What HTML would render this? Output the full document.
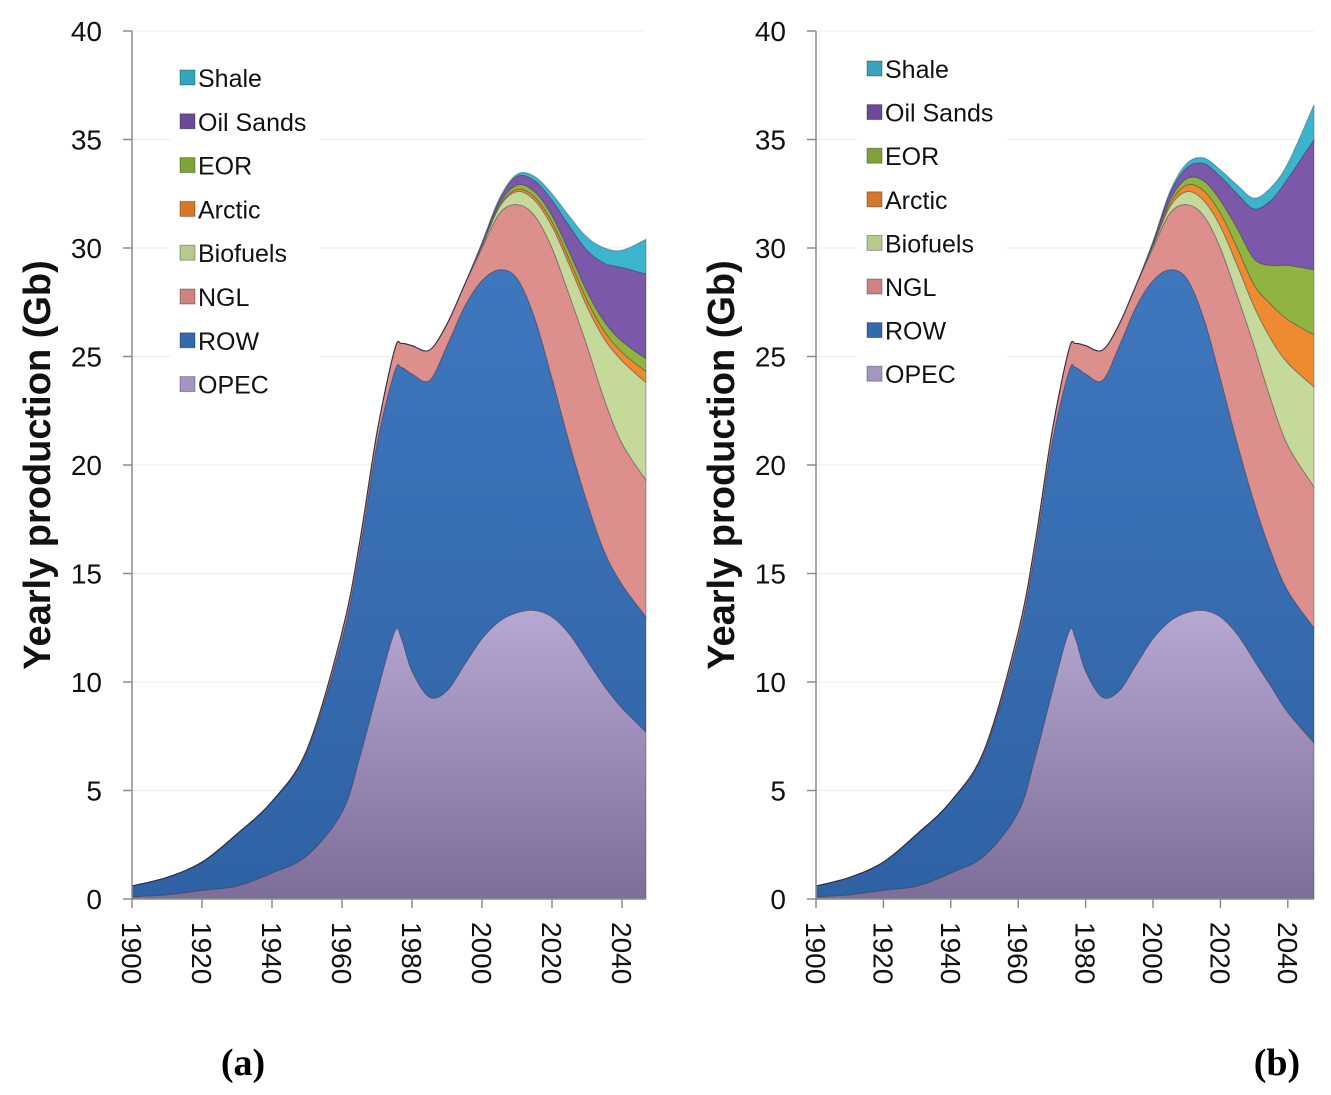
<!DOCTYPE html>
<html><head><meta charset="utf-8">
<style>
html,body{margin:0;padding:0;background:#fff;}
svg{display:block;font-family:"Liberation Sans",sans-serif;}
</style></head>
<body>
<svg id="chart" width="1331" height="1095" viewBox="0 0 1331 1095" xmlns="http://www.w3.org/2000/svg">
<defs>
<linearGradient id="gOPEC" x1="0" y1="0" x2="0" y2="1"><stop offset="0" stop-color="#b7a7d3"/><stop offset="1" stop-color="#7d6d98"/></linearGradient>
<linearGradient id="gROW" x1="0" y1="0" x2="0" y2="1"><stop offset="0" stop-color="#3f77bd"/><stop offset="1" stop-color="#2f62a4"/></linearGradient>
</defs>
<text x="243" y="1075" text-anchor="middle" font-family="Liberation Serif,serif" font-weight="bold" font-size="38">(a)</text>
<text x="1277" y="1075" text-anchor="middle" font-family="Liberation Serif,serif" font-weight="bold" font-size="38">(b)</text>
</svg>
<script>
const years = [1900,1910,1920,1930,1940,1950,1960,1965,1970,1975,1977,1980,1985,1990,1995,2000,2005,2010,2015,2020,2025,2030,2035,2040,2048];
const layerNames = ["OPEC","ROW","NGL","Biofuels","Arctic","EOR","Oil Sands","Shale"];
const opecA = [0.1,0.2,0.4,0.6,1.2,2.0,4.0,6.5,9.5,12.3,12.0,10.5,9.3,9.6,10.8,12.0,12.8,13.2,13.3,13.0,12.2,11.0,9.8,8.8,7.7];
const rowA  = [0.5,0.8,1.3,2.4,3.3,4.8,8.0,9.5,11.5,12.0,12.5,13.7,14.6,15.9,16.5,16.5,16.2,15.4,13.5,11.0,8.8,7.3,6.2,5.7,5.3];
const nglA  = [0,0,0,0,0,0.1,0.3,0.4,0.5,1.0,1.1,1.3,1.4,1.0,1.0,1.5,2.6,3.4,4.7,6.0,6.8,7.2,7.0,6.5,6.3];
const bioA  = [0,0,0,0,0,0,0,0,0,0,0,0,0,0,0,0.1,0.3,0.6,0.7,1.0,1.4,1.8,2.8,3.8,4.5];
const arcA  = [0,0,0,0,0,0,0,0,0,0,0,0,0,0,0,0,0.05,0.1,0.15,0.2,0.25,0.3,0.35,0.4,0.5];
const eorA  = [0,0,0,0,0,0,0,0,0,0,0,0,0,0,0,0.05,0.1,0.2,0.25,0.3,0.35,0.4,0.45,0.5,0.6];
const sandA = [0,0,0,0,0,0,0,0,0,0,0,0,0,0,0,0.1,0.2,0.4,0.5,0.7,1.2,1.9,2.7,3.4,3.9];
const shaleA= [0,0,0,0,0,0,0,0,0,0,0,0,0,0,0,0,0.05,0.1,0.2,0.3,0.45,0.6,0.7,0.8,1.6];
const opecB = [0.1,0.2,0.4,0.6,1.2,2.0,4.0,6.5,9.5,12.3,12.0,10.5,9.3,9.6,10.8,12.0,12.8,13.2,13.3,13.0,12.2,11.0,9.8,8.6,7.2];
const rowB  = [0.5,0.8,1.3,2.4,3.3,4.8,8.0,9.5,11.5,12.0,12.5,13.7,14.6,15.9,16.5,16.5,16.2,15.4,13.5,11.0,8.8,7.3,6.2,5.6,5.3];
const nglB  = [0,0,0,0,0,0.1,0.3,0.4,0.5,1.0,1.1,1.3,1.4,1.0,1.0,1.5,2.6,3.4,4.7,6.0,6.8,7.2,7.0,6.7,6.5];
const bioB  = [0,0,0,0,0,0,0,0,0,0,0,0,0,0,0,0.1,0.3,0.6,0.7,1.0,1.4,1.8,2.8,3.8,4.6];
const arcB  = [0,0,0,0,0,0,0,0,0,0,0,0,0,0,0,0.05,0.15,0.3,0.45,0.6,0.8,1.0,1.6,2.0,2.4];
const eorB  = [0,0,0,0,0,0,0,0,0,0,0,0,0,0,0,0.05,0.15,0.3,0.45,0.6,0.9,1.2,1.8,2.5,3.0];
const sandB = [0,0,0,0,0,0,0,0,0,0,0,0,0,0,0,0.1,0.3,0.5,0.8,1.1,1.6,2.3,3.0,4.0,6.0];
const shaleB= [0,0,0,0,0,0,0,0,0,0,0,0,0,0,0,0,0.1,0.2,0.25,0.3,0.4,0.5,0.6,0.7,1.6];
const yTicks = [0,5,10,15,20,25,30,35,40];
const xTicks = [1900,1920,1940,1960,1980,2000,2020,2040];
const layerFills = ["url(#gOPEC)","url(#gROW)","#dc8f8d","#c5d99b","#ee8b30","#8fb440","#7b58aa","#3db4cd"];
const legendColors = ["#a595c2","#3569ad","#cf8381","#b5ca8c","#d6772a","#7fa23a","#6c4a98","#35a4bd"];

const NS="http://www.w3.org/2000/svg";
const svg=document.getElementById('chart');
function mk(tag,attrs,parent){const e=document.createElementNS(NS,tag);for(const k in attrs)e.setAttribute(k,attrs[k]);(parent||svg).appendChild(e);return e;}

function smoothPath(pts){
  let d="M"+pts[0][0].toFixed(1)+","+pts[0][1].toFixed(1);
  for(let i=0;i<pts.length-1;i++){
    const p0=pts[Math.max(i-1,0)],p1=pts[i],p2=pts[i+1],p3=pts[Math.min(i+2,pts.length-1)];
    const c1=[p1[0]+(p2[0]-p0[0])/6,p1[1]+(p2[1]-p0[1])/6];
    const c2=[p2[0]-(p3[0]-p1[0])/6,p2[1]-(p3[1]-p1[1])/6];
    d+=" C"+c1[0].toFixed(1)+","+c1[1].toFixed(1)+" "+c2[0].toFixed(1)+","+c2[1].toFixed(1)+" "+p2[0].toFixed(1)+","+p2[1].toFixed(1);
  }
  return d;
}

function panel(id,x0,pxPerYr,xEnd,layers,legX,legY0,legStep){
  const g=mk('g',{});
  
  
  const yS=v=>899-v*21.7;
  const xS=yr=>Math.min(x0+(yr-1900)*pxPerYr,xEnd);
  yTicks.forEach(t=>{
    if(t>0){const l=mk('line',{x1:x0,x2:xEnd,y1:yS(t),y2:yS(t),stroke:'#ececec','stroke-width':1},g);
      
      }
  });
  let base=years.map(()=>0);
  layers.forEach((arr,li)=>{
    const top=base.map((b,i)=>b+arr[i]);
    const up=years.map((yr,i)=>[xS(yr),yS(top[i])]);
    const dn=years.map((yr,i)=>[xS(yr),yS(base[i])]).reverse();
    let d=smoothPath(up)+" L"+dn[0][0]+","+dn[0][1]+" "+smoothPath(dn).slice(1)+" Z";
    const p=mk('path',{d:d,fill:layerFills[li],stroke:'rgba(40,40,60,0.35)','stroke-width':1},g);
    
    
    base=top;
  });
  const ax=mk('line',{x1:x0,x2:x0,y1:31,y2:899,stroke:'#8c8c8c','stroke-width':1.5},g);
  
  
  const bx=mk('line',{x1:x0,x2:xEnd,y1:899,y2:899,stroke:'#8c8c8c','stroke-width':1.5},g);
  
  
  yTicks.forEach(t=>{
    mk('line',{x1:x0-9,x2:x0,y1:yS(t),y2:yS(t),stroke:'#8c8c8c','stroke-width':1.5},g);
    const tx=mk('text',{x:x0-30,y:yS(t)+10,'text-anchor':'end','font-size':28,fill:'#111'},g);
    tx.textContent=t;
    
    
  });
  xTicks.forEach(t=>{
    const x=xS(t);
    mk('line',{x1:x,x2:x,y1:899,y2:908,stroke:'#8c8c8c','stroke-width':1.5},g);
    const tx=mk('text',{x:0,y:0,'font-size':28,fill:'#111',transform:'translate('+(x-10)+',922) rotate(90)'},g);
    tx.textContent=t;
    
    
  });
  const yt=mk('text',{x:0,y:0,'font-size':38,'font-weight':'bold','text-anchor':'middle',fill:'#111',transform:'translate('+(x0-82)+',465) rotate(-90)'},g);
  yt.textContent='Yearly production (Gb)';
  
  
  const lg=mk('g',{},g);
  
  
  mk('rect',{x:legX-10,y:legY0-30,width:150,height:legStep*7+45,fill:'#fff'},lg);
  for(let i=0;i<8;i++){
    const li=7-i;
    const y=legY0+i*legStep;
    const e=mk('g',{},lg);
    
    
    mk('rect',{x:legX,y:y-8,width:15,height:15,fill:legendColors[li],stroke:'rgba(0,0,0,0.3)','stroke-width':1},e);
    const tx=mk('text',{x:legX+18,y:y+9,'font-size':25,fill:'#111'},e);
    tx.textContent=layerNames[li];
  }
}
panel('panel-a-chart',132,3.5,646,[opecA,rowA,nglA,bioA,arcA,eorA,sandA,shaleA],180,78,43.8);
panel('panel-b-chart',816,3.37,1314,[opecB,rowB,nglB,bioB,arcB,eorB,sandB,shaleB],867,69,43.6);
</script>
</body></html>
